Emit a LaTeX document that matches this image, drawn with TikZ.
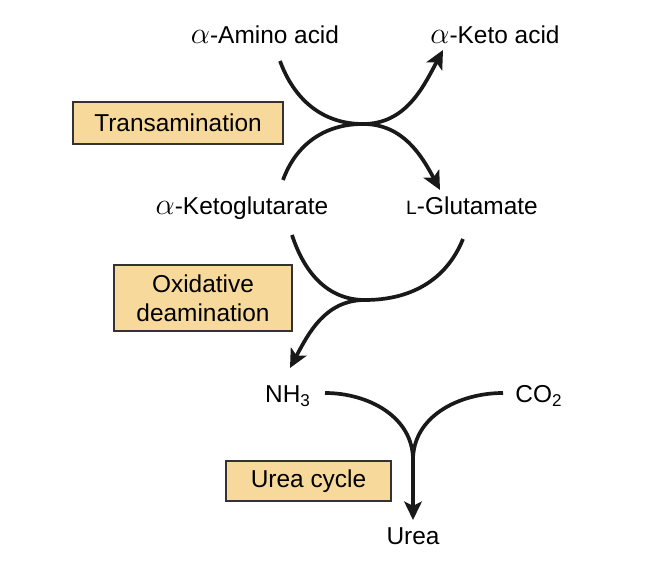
\documentclass[tikz,border=0pt]{standalone}
\usepackage{fontspec}
\setmainfont{Liberation Sans}
\usetikzlibrary{arrows.meta}
\definecolor{boxtan}{RGB}{247,218,155}
\newcommand{\alphaprefix}{{\fontsize{16.5}{16}\selectfont$\alpha$}}
\tikzstyle{process}=[rectangle,draw=black!80,line width=0.6pt,fill=boxtan,align=center,inner sep=0pt]
\tikzstyle{compound}=[inner sep=0pt,anchor=base]
\tikzstyle{flow}=[line width=2.1pt,black!90]
\tikzstyle{flowarrow}=[flow,-{Stealth[length=10.5pt,width=10pt,inset=2.5pt]}]
\begin{document}
\begin{tikzpicture}[font=\fontsize{13.9}{16.5}\selectfont]
\useasboundingbox (0,0) rectangle (13,11.44);
\node(amino)[compound] at (5.30,10.56){\alphaprefix-Amino acid};
\node(keto)[compound] at (9.90,10.56){\alphaprefix-Keto acid};
\node(akg)[compound] at (4.84,7.14){\alphaprefix-Ketoglutarate};
\node(glu)[compound] at (9.44,7.14){{\fontsize{11}{11}\selectfont L}-Glutamate};
\node(nh3)[compound] at (5.76,3.38){NH\textsubscript{3}};
\node(co2)[compound] at (10.78,3.38){CO\textsubscript{2}};
\node(urea)[compound] at (8.26,0.54){Urea};
\node(trans)[process,minimum width=4.2cm,minimum height=0.84cm] at (3.56,8.98){Transamination};
\node(oxid)[process,minimum width=3.56cm,minimum height=1.32cm] at (4.06,5.48){Oxidative\\deamination};
\node(ucycle)[process,minimum width=3.3cm,minimum height=0.8cm] at (6.17,1.82){Urea cycle};
\coordinate(tj) at (7.26,8.96);
\coordinate(dj) at (7.30,5.44);
\coordinate(uj) at (8.26,2.24);
% transamination
\draw[flowarrow]([shift={(0.30,-0.34)}]amino.base) to[out=-70,in=180] (tj) to[out=0,in=-118] ([shift={(-1.04,-0.12)}]keto.base);
\draw[flowarrow]([shift={(0.82,0.70)}]akg.base) to[out=70,in=180] (tj) to[out=0,in=118] ([shift={(-0.64,0.50)}]glu.base);
% oxidative deamination
\draw[flow]([shift={(1.00,-0.40)}]akg.base) to[out=-72,in=180] (dj) to[out=0,in=-112] ([shift={(-0.18,-0.48)}]glu.base);
\draw[flowarrow](dj) to[out=180,in=62] ([shift={(0.04,0.70)}]nh3.base);
% urea cycle
\draw[flow]([shift={(0.74,0.20)}]nh3.base) to[out=0,in=90] (uj);
\draw[flow]([shift={(-0.72,0.20)}]co2.base) to[out=180,in=90] (uj);
\draw[flowarrow](uj) -- ([yshift=0.50cm]urea.base);
\end{tikzpicture}
\end{document}
